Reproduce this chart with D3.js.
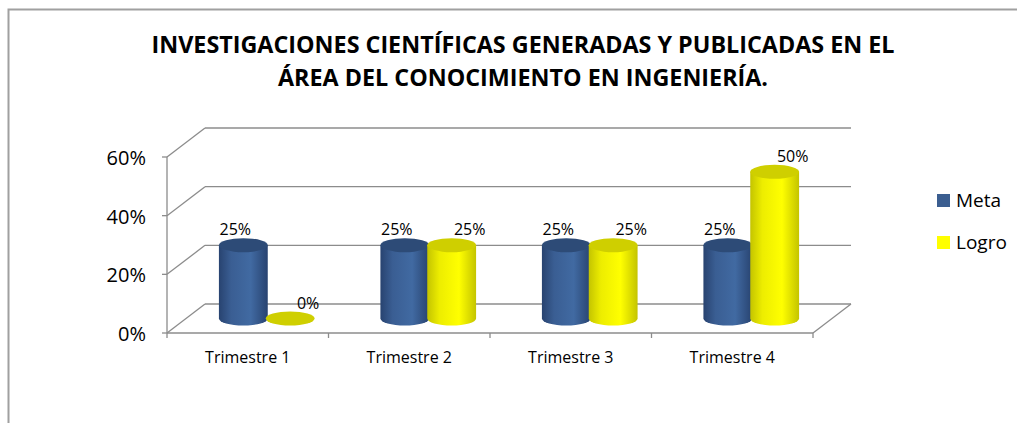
<!DOCTYPE html>
<html>
<head>
<meta charset="utf-8">
<script src="https://cdn.jsdelivr.net/npm/d3@7/dist/d3.min.js"></script>
<style>
  html, body { margin: 0; padding: 0; background: #ffffff; }
  svg { display: block; }
</style>
</head>
<body>
<div id="chart"></div>
<script>
// ---- Data ----
const titleLines = ["INVESTIGACIONES CIENTÍFICAS GENERADAS Y PUBLICADAS EN EL", "ÁREA DEL CONOCIMIENTO EN INGENIERÍA."];
const categories = ["Trimestre 1", "Trimestre 2", "Trimestre 3", "Trimestre 4"];
const seriesNames = ["Meta", "Logro"];
const metaValues = [0.25, 0.25, 0.25, 0.25];
const logroValues = [0.00, 0.25, 0.25, 0.50];
const yTicks = [0, 0.2, 0.4, 0.6];
const yTickLabels = ["0%", "20%", "40%", "60%"];

// ---- Layout / style ----
const W = 1017, H = 423;
const FONT = "'Open Sans', 'DejaVu Sans', sans-serif";
const gridColor = "#8c8c8c";
const depth = { dx: 38, dy: -29 };
const seriesStyle = {
  Meta:  { dark: "#284370", light: "#416aa2", top: "#2d4b77", legend: "#3b5e90", labelDx: -8 },
  Logro: { dark: "#c4c400", light: "#ffff00", top: "#cfcf00", legend: "#ffff00", labelDx: 18 }
};

const svg = d3.select("#chart").append("svg").attr("width", W).attr("height", H);
const defs = svg.append("defs");
seriesNames.forEach(s => {
  const st = seriesStyle[s];
  const g = defs.append("linearGradient").attr("id", "grad-" + s)
    .attr("x1", "0%").attr("x2", "100%").attr("y1", "0%").attr("y2", "0%");
  g.append("stop").attr("offset", "0%").attr("stop-color", st.dark);
  g.append("stop").attr("offset", "25%").attr("stop-color", d3.interpolateRgb(st.dark, st.light)(0.7));
  g.append("stop").attr("offset", "65%").attr("stop-color", st.light);
  g.append("stop").attr("offset", "100%").attr("stop-color", st.dark);
});

// Chart frame
svg.append("path")
  .attr("d", "M8.5,430 L8.5,9.5 L1030,9.5")
  .attr("fill", "none").attr("stroke", "#a0a0a0").attr("stroke-width", 2);

// Title
svg.append("g").selectAll("text").data(titleLines).join("text")
  .attr("x", 523).attr("y", (d, i) => 53 + i * 33)
  .attr("text-anchor", "middle")
  .attr("font-family", FONT).attr("font-weight", "bold").attr("font-size", 23)
  .attr("textLength", (d, i) => i === 0 ? 743 : 490)
  .attr("lengthAdjust", "spacingAndGlyphs")
  .attr("fill", "#000")
  .text(d => d);

// Scales
const x = d3.scaleBand().domain(categories).range([167, 813]).padding(0);
const xs = d3.scaleBand().domain(seriesNames).range([-0.29, 0.29]);
const y = d3.scaleLinear().domain([0, 0.6]).range([333, 157]);

const grid = svg.append("g").attr("stroke", gridColor).attr("stroke-width", 1.3).attr("fill", "none");
const x0 = x.range()[0], x1 = x.range()[1];
yTicks.forEach(t => {
  const yf = y(t), yb = yf + depth.dy;
  grid.append("line").attr("x1", x0 + depth.dx).attr("x2", x1 + depth.dx).attr("y1", yb).attr("y2", yb);
  grid.append("line").attr("x1", x0).attr("y1", yf).attr("x2", x0 + depth.dx).attr("y2", yb);
  grid.append("line").attr("x1", x0 - 5).attr("x2", x0).attr("y1", yf).attr("y2", yf);
});
grid.append("line").attr("x1", x0).attr("x2", x0).attr("y1", y(0.6)).attr("y2", y(0));
grid.append("line").attr("x1", x0).attr("x2", x1).attr("y1", y(0)).attr("y2", y(0));
grid.append("line").attr("x1", x1).attr("y1", y(0)).attr("x2", x1 + depth.dx).attr("y2", y(0) + depth.dy);
const boundaries = categories.map(c => x(c)).concat([x1]);
boundaries.forEach(b => {
  grid.append("line").attr("x1", b).attr("x2", b).attr("y1", y(0)).attr("y2", y(0) + 5);
});

// Y tick labels
svg.append("g").selectAll("text").data(yTicks).join("text")
  .attr("x", 146).attr("y", d => y(d) + 8)
  .attr("text-anchor", "end")
  .attr("font-family", FONT).attr("font-size", 20).attr("fill", "#000")
  .text((d, i) => yTickLabels[i]);

// Category labels
svg.append("g").selectAll("text").data(categories).join("text")
  .attr("x", d => x(d) + x.bandwidth() / 2).attr("y", 363)
  .attr("text-anchor", "middle")
  .attr("font-family", FONT).attr("font-size", 16).attr("fill", "#000")
  .text(d => d);

// Cylinders
const bars = [];
categories.forEach((c, i) => {
  bars.push({ cat: c, s: "Meta", v: metaValues[i] });
  bars.push({ cat: c, s: "Logro", v: logroValues[i] });
});
const bw = x.bandwidth();
const rW = xs.bandwidth() * bw / 2 + 1;
const ry = 7;
const cyl = svg.append("g");
bars.forEach(d => {
  const cx = x(d.cat) + bw / 2 + (xs(d.s) + xs.bandwidth() / 2) * bw + depth.dx / 2;
  const yBase = y(0) + depth.dy / 2;
  const yTop = y(d.v) + depth.dy / 2;
  const st = seriesStyle[d.s];
  const g = cyl.append("g");
  if (d.v > 0) {
    const path = `M${cx - rW},${yTop} L${cx - rW},${yBase} A${rW},${ry} 0 0 0 ${cx + rW},${yBase} L${cx + rW},${yTop} Z`;
    g.append("path").attr("d", path).attr("fill", `url(#grad-${d.s})`);
  }
  g.append("ellipse").attr("cx", cx).attr("cy", yTop).attr("rx", rW).attr("ry", ry)
    .attr("fill", st.top);
  svg.append("text")
    .attr("x", cx + st.labelDx).attr("y", yTop - 10)
    .attr("text-anchor", "middle")
    .attr("font-family", FONT).attr("font-size", 16).attr("fill", "#000")
    .text(d3.format(".0%")(d.v));
});

// Legend
const legend = svg.append("g");
seriesNames.forEach((s, i) => {
  legend.append("rect").attr("x", 937).attr("y", 194 + i * 42).attr("width", 13).attr("height", 13)
    .attr("fill", seriesStyle[s].legend);
  legend.append("text").attr("x", 956).attr("y", 207 + i * 42)
    .attr("font-family", FONT).attr("font-size", 19).attr("fill", "#000")
    .text(s);
});
</script>
</body>
</html>
